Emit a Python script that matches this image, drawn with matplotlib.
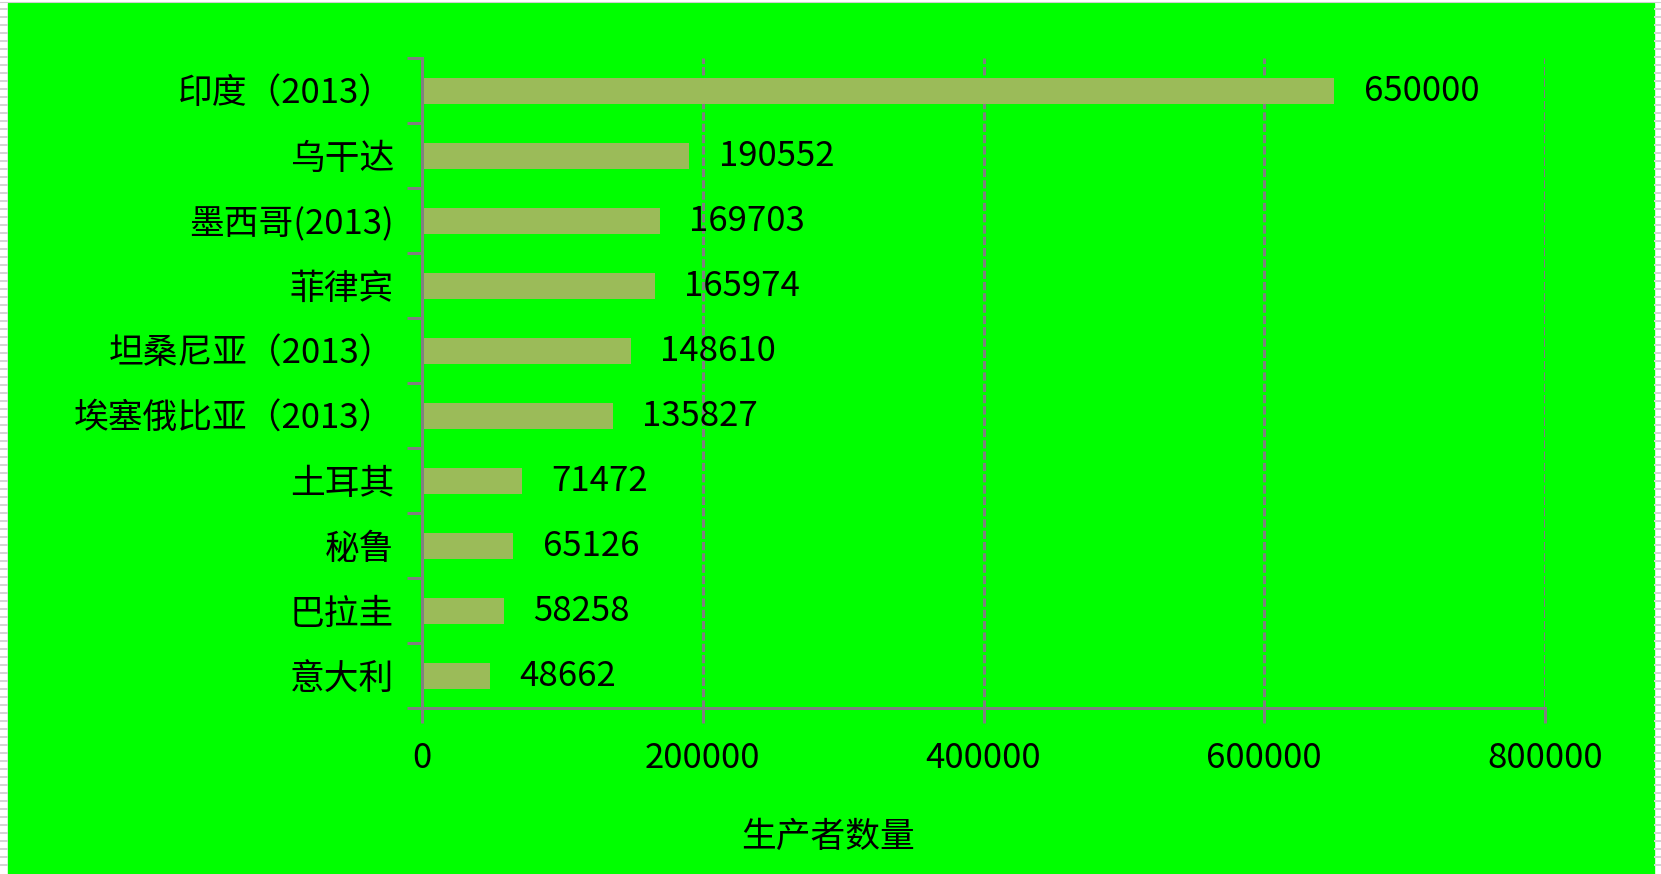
import matplotlib.pyplot as plt
from matplotlib.patches import Rectangle
from matplotlib.lines import Line2D

plt.rcParams['font.family'] = ['Noto Sans CJK SC', 'DejaVu Sans']

# chart data, top to bottom
countries = ["印度（2013）", "乌干达", "墨西哥(2013)", "菲律宾", "坦桑尼亚（2013）",
             "埃塞俄比亚（2013）", "土耳其", "秘鲁", "巴拉圭", "意大利"]
producers = [650000, 190552, 169703, 165974, 148610, 135827, 71472, 65126, 58258, 48662]
xticks = [0, 200000, 400000, 600000, 800000]

W, H = 1661, 874
fig = plt.figure(figsize=(W / 100, H / 100), dpi=100, facecolor="white")

# green background panel with striped edges
fig.add_artist(Rectangle((8 / W, 0), (1654 - 8) / W, (H - 3) / H,
                         transform=fig.transFigure, color="#00ff00", zorder=0))
fig.add_artist(Line2D([0, 1], [1 - 2 / H, 1 - 2 / H], transform=fig.transFigure,
                      color="#d0d0d0", lw=0.8))
for y in range(10, H, 8):
    for x0, x1 in [(0, 8), (1654, W)]:
        fig.add_artist(Rectangle((x0 / W, 1 - y / H), (x1 - x0) / W, 2 / H,
                                 transform=fig.transFigure, color="#d4d4d4", lw=0))

ax = fig.add_axes([422 / W, 1 - 708 / H, (1545 - 422) / W, (708 - 58) / H])
ax.set_facecolor("none")

pos = list(range(len(countries)))
ax.barh(pos, producers, height=0.4, color="#9bbb59", zorder=2)

# value labels next to each bar
for p, v in zip(pos, producers):
    ax.annotate(str(v), (v, p), xytext=(21, -1), textcoords="offset points",
                ha="left", va="center", fontsize=25, color="black", zorder=3)

ax.set_xlim(0, 800000)
ax.set_ylim(len(countries) - 0.5, -0.5)
ax.set_xticks(xticks)
ax.set_xticklabels([str(t) for t in xticks])
ax.set_yticks(pos)
ax.set_yticklabels(countries)
ax.set_yticks([p - 0.5 for p in pos] + [len(pos) - 0.5], minor=True)

ax.tick_params(axis="y", which="major", length=0, pad=20, labelsize=25)
ax.tick_params(axis="y", which="minor", length=10.8, width=2.16, color="gray")
ax.tick_params(axis="x", length=10.8, width=2.16, color="gray", pad=13, labelsize=25)

ax.grid(axis="x", color="gray", linewidth=2.2, linestyle=(0, (2.7, 1)), zorder=1)
ax.set_axisbelow(True)

for side in ["top", "right"]:
    ax.spines[side].set_visible(False)
for side in ["left", "bottom"]:
    ax.spines[side].set_color("gray")
    ax.spines[side].set_linewidth(2.16)

ax.set_xlabel("生产者数量", fontsize=25, va="center")
ax.xaxis.set_label_coords((828 - 422) / 1123, -(837 - 708) / 650)

fig.savefig("out.png", dpi=100, facecolor=fig.get_facecolor())
